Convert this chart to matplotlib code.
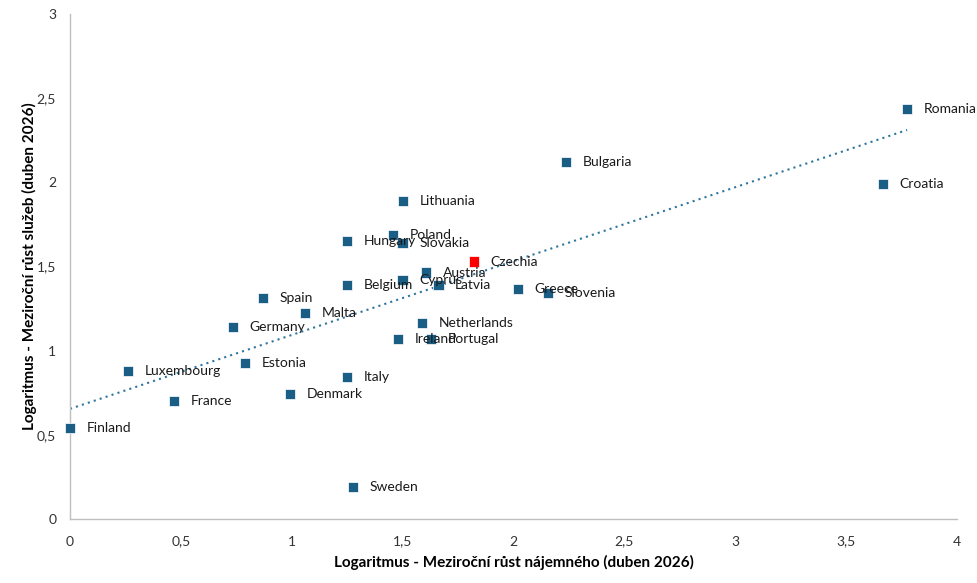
import matplotlib.pyplot as plt
import numpy as np

plt.rcParams['font.family'] = ['Lato', 'DejaVu Sans']

countries = ["Romania", "Bulgaria", "Croatia", "Lithuania", "Poland", "Hungary",
             "Slovakia", "Czechia", "Austria", "Cyprus", "Latvia", "Belgium",
             "Greece", "Slovenia", "Spain", "Malta", "Germany", "Netherlands",
             "Ireland", "Portugal", "Estonia", "Luxembourg", "Italy", "Denmark",
             "France", "Finland", "Sweden"]
rent = [3.775, 2.237, 3.666, 1.502, 1.455, 1.248,
        1.500, 1.822, 1.605, 1.500, 1.662, 1.248,
        2.020, 2.156, 0.870, 1.060, 0.735, 1.587,
        1.479, 1.627, 0.789, 0.262, 1.249, 0.992,
        0.469, 0.0, 1.276]
services = [2.436, 2.121, 1.990, 1.889, 1.689, 1.652,
            1.638, 1.529, 1.464, 1.420, 1.388, 1.392,
            1.367, 1.343, 1.313, 1.224, 1.141, 1.166,
            1.071, 1.071, 0.927, 0.879, 0.844, 0.743,
            0.701, 0.541, 0.190]
highlight = "Czechia"

x_ticks = [0, 0.5, 1, 1.5, 2, 2.5, 3, 3.5, 4]
y_ticks = [0, 0.5, 1, 1.5, 2, 2.5, 3]

fig = plt.figure(figsize=(9.78, 5.83), dpi=100)
ax = fig.add_axes([0.0716, 0.1098, 0.9069, 0.8662])

blue = '#1B5E85'
red = '#FF0000'
cols = [red if c == highlight else blue for c in countries]
ax.scatter(rent, services, marker='s', s=55, c=cols, edgecolors='white',
           linewidths=0.5, zorder=3, clip_on=False)

for c, xv, yv in zip(countries, rent, services):
    ax.annotate(c, (xv, yv), xytext=(12, 0), textcoords='offset points',
                va='center', ha='left', fontsize=10, color='#1a1a1a', zorder=4)

# linear trend
k, q = np.polyfit(rent, services, 1)
xt = np.array([0, max(rent)])
ax.plot(xt, k * xt + q, linestyle=(0, (1, 2)), color='#2E75A0', lw=1.5, zorder=2)

ax.set_xlim(0, 4)
ax.set_ylim(0, 3)
ax.set_xticks(x_ticks)
ax.set_yticks(y_ticks)
ax.set_xticklabels([str(t).replace('.', ',') if t % 1 else str(int(t)) for t in x_ticks])
ax.set_yticklabels([str(t).replace('.', ',') if t % 1 else str(int(t)) for t in y_ticks])
ax.tick_params(length=0, labelsize=10, colors='#333333', pad=12)
ax.tick_params(axis='y', pad=10)

for s in ['top', 'right']:
    ax.spines[s].set_visible(False)
for s in ['left', 'bottom']:
    ax.spines[s].set_color('#BFBFBF')
    ax.spines[s].set_linewidth(1)

ax.set_xlabel("Logaritmus - Meziroční růst nájemného (duben 2026)",
              fontsize=11, fontweight='bold', labelpad=5)
ax.set_ylabel("Logaritmus - Meziroční růst služeb (duben 2026)",
              fontsize=11, fontweight='bold', labelpad=0)

fig.savefig('out.png', dpi=100)
